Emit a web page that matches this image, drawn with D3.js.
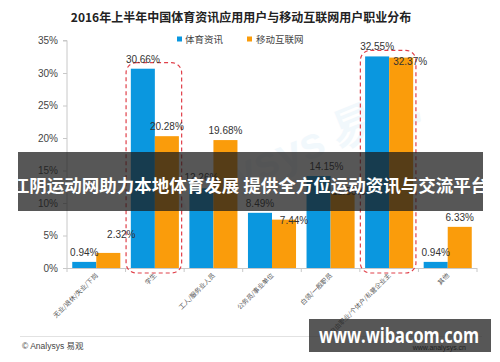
<!DOCTYPE html>
<html><head><meta charset="utf-8">
<script src="https://cdn.jsdelivr.net/npm/d3@7/dist/d3.min.js"></script>
<style>
html,body{margin:0;padding:0;background:#fff;}
svg{display:block;font-family:"Noto Sans CJK SC","Microsoft YaHei",sans-serif;}
</style></head>
<body><svg id="c" width="500" height="362"></svg>
<script>
const title = "2016年上半年中国体育资讯应用用户与移动互联网用户职业分布";
const categories = ["无业/退休/失业/下岗","学生","工人/服务业人员","公务员/事业单位","白领/一般职员","自由职业/个体户/私营企业主","其他"];
const seriesNames = ["体育资讯","移动互联网"];
const sportsNews = [0.94,30.66,12.26,8.49,14.15,32.55,0.94];
const mobileNet = [2.32,20.28,19.68,7.44,11.56,32.37,6.33];
const yTicks = [0,5,10,15,20,25,30,35];
const highlighted = ["学生","自由职业/个体户/私营企业主"];
const bannerText = "江阴运动网助力本地体育发展 提供全方位运动资讯与交流平台";

const colors = ["#0a97df","#fa9c0b"];
// label offsets (dx, dy) relative to default above-bar placement
const nudge = {"0-1":[13,-9],"2-0":[0,-1],"3-1":[10,10],"4-0":[8,0],"4-1":[6,8],"5-1":[9,13]};

const svg = d3.select("#c");
const m = {l:67, r:23, t:40.5, b:94};
const W = 500, H = 362;
const x = d3.scaleBand().domain(categories).range([m.l, W-m.r]).paddingInner(0).paddingOuter(0);
const xs = d3.scaleBand().domain([0,1]).range([0, x.bandwidth()]).paddingInner(0).paddingOuter(0.2185);
const y = d3.scaleLinear().domain([0,35]).range([H-m.b, m.t]);

// faint watermark
svg.append("text").attr("x",285).attr("y",170).attr("transform","rotate(-22,285,170)")
  .attr("text-anchor","middle").attr("font-size",44).attr("font-weight","bold")
  .attr("fill","#2a8fd0").attr("opacity",0.06).attr("font-family","Arial, sans-serif").text("Analysys 易观");

// title
svg.append("text").attr("x",241).attr("y",22).attr("text-anchor","middle")
  .attr("font-size",12).attr("font-weight","bold").attr("fill","#222").text(title);

// legend
const lg = svg.append("g");
[[177,185],[247,256]].forEach((p,i)=>{
  lg.append("rect").attr("x",p[0]).attr("y",36.5).attr("width",5).attr("height",5).attr("fill",colors[i]);
  lg.append("text").attr("x",p[1]).attr("y",43).attr("font-size",9.5).attr("fill","#444").text(seriesNames[i]);
});

// y axis
const ya = svg.append("g").attr("transform",`translate(${m.l},0)`)
  .call(d3.axisLeft(y).tickValues(yTicks).tickSize(4).tickFormat(d=>d+"%"));
ya.select(".domain").attr("stroke","#c8c8c8").attr("d",`M-4,${y(35)}H0V${y(0)}`);
ya.selectAll(".tick line").attr("stroke","#c8c8c8");
ya.selectAll(".tick text").attr("font-size",10).attr("fill","#444").attr("x",-9)
  .attr("font-family","Arial, 'Liberation Sans', sans-serif");

// x axis
const boundaries = categories.map(c=>x(c)).concat([W-m.r]);
svg.append("line").attr("x1",m.l).attr("x2",W-m.r).attr("y1",y(0)+0.5).attr("y2",y(0)+0.5).attr("stroke","#c8c8c8");
svg.selectAll("line.bt").data(boundaries).join("line").attr("class","bt")
  .attr("x1",d=>d).attr("x2",d=>d).attr("y1",y(0)).attr("y2",y(0)+4).attr("stroke","#c8c8c8");

// bars
const series = [sportsNews, mobileNet];
series.forEach((vals,si)=>{
  svg.append("g").selectAll("rect").data(vals).join("rect")
    .attr("x",(d,i)=>x(categories[i])+xs(si))
    .attr("width",xs.bandwidth())
    .attr("y",d=>y(d)).attr("height",d=>y(0)-y(d))
    .attr("fill",colors[si]);
});

// highlight rounded dashed boxes
highlighted.forEach(c=>{
  const x0 = x(c)+0.5, w = x.bandwidth()-3;
  const i = categories.indexOf(c);
  const top = y(Math.max(sportsNews[i], mobileNet[i])) - 6;
  svg.append("rect").attr("x",x0).attr("y",top).attr("width",w).attr("height",y(0)+5-top)
    .attr("rx",10).attr("ry",10).attr("fill","none").attr("stroke","#e0404a")
    .attr("stroke-width",1.2).attr("stroke-dasharray","4,3");
});

// value labels
series.forEach((vals,si)=>{
  vals.forEach((v,i)=>{
    const n = nudge[i+"-"+si] || [0,0];
    svg.append("text")
      .attr("x",x(categories[i])+xs(si)+xs.bandwidth()/2+n[0])
      .attr("y",y(v)-6+n[1]).attr("text-anchor","middle")
      .attr("font-size",10).attr("fill","#333")
      .attr("font-family","Arial, 'Liberation Sans', sans-serif")
      .text(v.toFixed(2)+"%");
  });
});

// category labels
categories.forEach(c=>{
  const cx = x(c)+x.bandwidth()/2+2, cy = y(0)+8;
  svg.append("text").attr("transform",`translate(${cx},${cy}) rotate(-45)`)
    .attr("text-anchor","end").attr("font-size",6.5).attr("fill","#555").text(c);
});

// footer
svg.append("line").attr("x1",20).attr("x2",482).attr("y1",336.5).attr("y2",336.5).attr("stroke","#e2e2e2");
svg.append("text").attr("x",22).attr("y",349).attr("font-size",8.5).attr("fill","#444")
  .attr("font-family","Arial, 'Noto Sans CJK SC', sans-serif").text("© Analysys 易观");

// overlay banner
svg.append("rect").attr("x",18).attr("y",152).attr("width",465).attr("height",59).attr("fill","rgba(28,28,28,0.74)");
svg.append("text").attr("x",250).attr("y",191.5).attr("text-anchor","middle").attr("font-size",17.5)
  .attr("font-weight","bold").attr("fill","#fff").text(bannerText);

// bottom right box
svg.append("rect").attr("x",309).attr("y",319).attr("width",182).attr("height",33).attr("fill","rgba(40,40,40,0.78)");
svg.append("text").attr("x",399).attr("y",343).attr("text-anchor","middle").attr("font-size",22)
  .attr("textLength",160).attr("lengthAdjust","spacingAndGlyphs")
  .attr("font-weight","bold").attr("fill","#fff").attr("font-family","'Open Sans','DejaVu Sans',sans-serif").text("www.wibacom.com");
svg.append("text").attr("x",466).attr("y",350).attr("text-anchor","end").attr("font-size",7).attr("fill","#222")
  .attr("font-family","Arial, sans-serif").text("www.analysys.cn");
</script></body></html>
